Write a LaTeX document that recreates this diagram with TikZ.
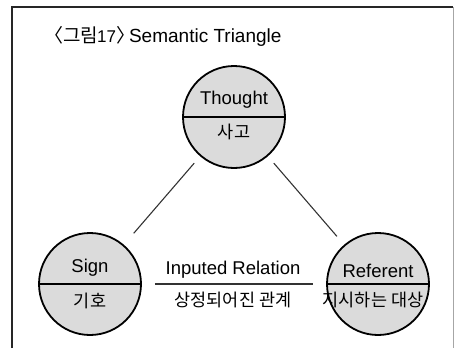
\documentclass[tikz,border=0pt]{standalone}
\usepackage{fontspec}
\setmainfont{Liberation Sans}
\newfontfamily\cjk{Noto Sans CJK KR}
\begin{document}
\begin{tikzpicture}[
    x=1pt, y=-1pt,
    concept/.style={circle, draw, line width=1.8pt, fill=black!14, minimum size=102pt, inner sep=0pt},
    divider/.style={line width=1.3pt},
    link/.style={line width=1.1pt, black!80},
    en/.style={font=\fontsize{18.5}{22}\selectfont, inner sep=0pt},
    ko/.style={font=\cjk\fontsize{17.5}{21}\selectfont, inner sep=0pt},
]
\useasboundingbox (0,0) rectangle (455,348);

% Frame
\draw[line width=1.6pt, black!85] (12,348) -- (12,7) -- (453,7);
\draw[line width=0.8pt, black!35] (453,7) -- (453,348);

% Title
\node[en, font=\fontsize{19}{23}\selectfont, anchor=west] (title) at (44,36)
    {{\cjk 〈그림}\kern-1pt{\fontsize{17}{20}\selectfont 17}{\cjk 〉}\kern-6pt Semantic Triangle};

% Circles
\node[concept] (thought) at (234,117) {};
\node[concept] (sign) at (90,284) {};
\node[concept] (referent) at (378,284) {};
\draw[divider] (thought.west) -- (thought.east);
\draw[divider] (sign.west) -- (sign.east);
\draw[divider] (referent.west) -- (referent.east);

% Labels
\node[en] (thoughtEn) at (234,100) {Thought};
\node[ko] (thoughtKo) at (234,132) {사고};
\node[en] (signEn) at (90,268) {Sign};
\node[ko] (signKo) at (90,301) {기호};
\node[en] (referentEn) at (378,271) {Referent};
\node[ko] (referentKo) at (373,300) {지시하는 대상};

% Connectors
\draw[link, shorten <=9pt, shorten >=15pt] (thought) -- (sign);
\draw[link, shorten <=9pt, shorten >=11pt] (thought) -- (referent);
\draw[link, shorten <=13pt, shorten >=13pt] (sign) -- (referent);
\node[en] (relationEn) at (233,270) {Inputed Relation};
\node[ko] (relationKo) at (233,300) {상정되어진 관계};
\end{tikzpicture}
\end{document}
